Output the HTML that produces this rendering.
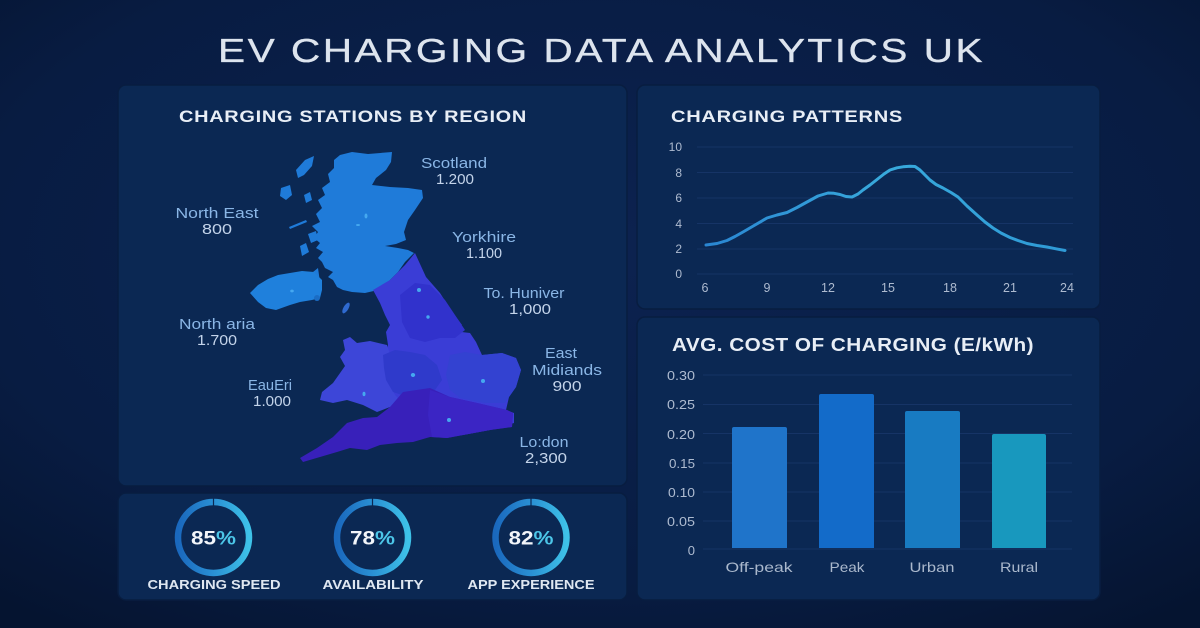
<!DOCTYPE html>
<html><head><meta charset="utf-8"><style>
html,body{margin:0;padding:0;background:#071a3c;}
svg{display:block;}
text{font-family:"Liberation Sans",Arial,sans-serif;}
</style></head><body>
<svg width="1200" height="628" viewBox="0 0 1200 628" xmlns="http://www.w3.org/2000/svg">
<defs>
<radialGradient id="bg" cx="50%" cy="40%" r="75%">
<stop offset="0" stop-color="#0c2250"/>
<stop offset="0.7" stop-color="#081c42"/>
<stop offset="1" stop-color="#051430"/>
</radialGradient>
<linearGradient id="ring" x1="0" y1="0" x2="1" y2="0">
<stop offset="0" stop-color="#1a68bd"/>
<stop offset="0.5" stop-color="#2a90d4"/>
<stop offset="1" stop-color="#3ec2e8"/>
</linearGradient>
<linearGradient id="ln" x1="0" y1="0" x2="1" y2="0">
<stop offset="0" stop-color="#2a86d2"/>
<stop offset="0.5" stop-color="#38aadc"/>
<stop offset="1" stop-color="#2f9ad6"/>
</linearGradient>
</defs>
<rect width="1200" height="628" fill="url(#bg)"/>

<!-- Title -->
<text x="218" y="62" font-size="33.5" fill="#dde4ee" stroke="#dde4ee" stroke-width="0.3" letter-spacing="2" textLength="767" lengthAdjust="spacingAndGlyphs">EV CHARGING DATA ANALYTICS UK</text>

<!-- Panels -->
<g fill="#0b2853" stroke="#081d40" stroke-width="1.5">
<rect x="118" y="85" width="509" height="401" rx="8"/>
<rect x="118" y="493" width="509" height="107" rx="8"/>
<rect x="637" y="85" width="463" height="224" rx="8"/>
<rect x="637" y="317" width="463" height="283" rx="8"/>
</g>

<!-- Left panel title -->
<text x="179" y="122" font-size="17" font-weight="bold" fill="#e8eef6" letter-spacing="0.6" textLength="348" lengthAdjust="spacingAndGlyphs">CHARGING STATIONS BY REGION</text>

<!-- Map -->
<g>
<polygon fill="#1f7bd9" points="340,155 352,152 368,154 392,152 391,162 386,170 376,178 372,185 390,187 408,188 422,190 423,198 415,210 408,220 404,232 406,240 396,244 385,246 398,248 408,250 414,253 405,262 398,272 388,282 378,290 365,293 352,292 343,290 337,287 333,280 328,277 333,272 325,268 322,262 318,258 323,252 316,248 320,243 314,238 318,232 312,226 320,222 316,214 322,208 318,200 325,195 322,188 330,182 328,174 334,168 334,160"/>
<g fill="#1f7bd9">
<polygon points="296,170 305,160 314,156 312,166 304,175 298,178"/>
<polygon points="281,188 290,185 292,195 286,200 280,196"/>
<polygon points="304,195 310,192 312,200 306,203"/>
<polygon points="308,234 316,231 318,240 311,243"/>
<polygon points="300,246 306,243 309,252 302,256"/>
<polygon points="289,227 306,220 307,222 290,229"/>
<polygon points="313,272 318,268 320,282 315,284"/>
</g>
<polygon fill="#1f80dc" points="250,293 258,285 268,279 278,275 290,273 302,271 314,272 322,280 322,290 320,298 312,300 300,302 290,305 276,310 266,308 258,302"/>
<circle cx="317" cy="298" r="3" fill="#1a6cc4"/>
<ellipse cx="346" cy="308" rx="2.5" ry="6" transform="rotate(30 346 308)" fill="#2f6ad0"/>
<polygon fill="#3a3dd6" points="373,290 390,280 405,265 415,253 426,277 440,293 451,310 462,325 445,330 470,333 476,342 482,355 502,353 516,358 521,370 516,387 509,397 506,410 514,413 514,423 490,430 463,435 430,437 400,440 390,407 383,390 385,365 388,345 386,332 390,325 385,315 380,303"/>
<polygon fill="#3132cc" points="400,295 415,283 430,285 445,300 455,315 465,330 455,338 440,338 425,342 410,338 402,322"/>
<polygon fill="#3d46d8" points="343,340 350,337 357,343 370,341 387,345 392,360 388,380 395,395 400,400 390,407 377,412 363,405 347,400 333,403 320,400 322,392 333,383 345,366 340,357 345,350"/>
<polygon fill="#2f3acb" points="383,355 395,350 410,352 425,355 437,365 442,380 435,390 420,392 405,396 393,392 386,380 384,368"/>
<polygon fill="#3342d1" points="450,355 465,352 482,355 502,353 516,358 521,370 516,387 509,397 505,403 485,403 460,398 450,390 446,375"/>
<polygon fill="#3820ba" points="390,407 403,392 430,388 450,397 477,403 507,410 513,413 512,427 490,430 463,435 447,438 430,437 413,442 397,443 380,445 367,450 350,448 337,452 320,457 303,462 300,458 317,448 333,437 347,423 363,418 377,417"/>
<polygon fill="#3b25c4" points="430,390 450,397 477,403 507,410 513,413 512,427 490,430 463,435 447,438 432,437 428,415"/>
<g fill="#45a8f0">
<ellipse cx="366" cy="216" rx="1.5" ry="2.5"/>
<ellipse cx="358" cy="225" rx="2" ry="1"/>
<ellipse cx="292" cy="291" rx="1.8" ry="1.4"/>
<circle cx="419" cy="290" r="2"/>
<circle cx="428" cy="317" r="1.7"/>
<ellipse cx="413" cy="375" rx="2.2" ry="2"/>
<ellipse cx="364" cy="394" rx="1.5" ry="2.2"/>
<circle cx="483" cy="381" r="2"/>
<circle cx="449" cy="420" r="2"/>
</g>
</g>

<!-- Map labels -->
<g font-size="15" text-anchor="middle">
<text x="454" y="168" fill="#8ab6e6" textLength="66" lengthAdjust="spacingAndGlyphs">Scotland</text>
<text x="455" y="184" fill="#c4d4ea" textLength="38" lengthAdjust="spacingAndGlyphs">1.200</text>
<text x="217" y="218" fill="#8ab6e6" textLength="83" lengthAdjust="spacingAndGlyphs">North East</text>
<text x="217" y="234" fill="#c4d4ea" textLength="30" lengthAdjust="spacingAndGlyphs">800</text>
<text x="484" y="242" fill="#8ab6e6" textLength="64" lengthAdjust="spacingAndGlyphs">Yorkhire</text>
<text x="484" y="258" fill="#c4d4ea" textLength="36" lengthAdjust="spacingAndGlyphs">1.100</text>
<text x="524" y="298" fill="#8ab6e6" textLength="81" lengthAdjust="spacingAndGlyphs">To. Huniver</text>
<text x="530" y="314" fill="#c4d4ea" textLength="42" lengthAdjust="spacingAndGlyphs">1,000</text>
<text x="217" y="329" fill="#8ab6e6" textLength="76" lengthAdjust="spacingAndGlyphs">North aria</text>
<text x="217" y="345" fill="#c4d4ea" textLength="40" lengthAdjust="spacingAndGlyphs">1.700</text>
<text x="561" y="358" fill="#8ab6e6" textLength="32" lengthAdjust="spacingAndGlyphs">East</text>
<text x="567" y="375" fill="#8ab6e6" textLength="70" lengthAdjust="spacingAndGlyphs">Midiands</text>
<text x="567" y="391" fill="#c4d4ea" textLength="29" lengthAdjust="spacingAndGlyphs">900</text>
<text x="270" y="390" fill="#8ab6e6" textLength="44" lengthAdjust="spacingAndGlyphs">EauEri</text>
<text x="272" y="406" fill="#c4d4ea" textLength="38" lengthAdjust="spacingAndGlyphs">1.000</text>
<text x="544" y="447" fill="#8ab6e6" textLength="49" lengthAdjust="spacingAndGlyphs">Lo:don</text>
<text x="546" y="463" fill="#c4d4ea" textLength="42" lengthAdjust="spacingAndGlyphs">2,300</text>
</g>

<!-- KPI rings -->
<g fill="none" stroke="url(#ring)" stroke-width="6.5">
<circle cx="213.5" cy="537.5" r="35.5"/>
<circle cx="372.5" cy="537.5" r="35.5"/>
<circle cx="531" cy="537.5" r="35.5"/>
</g>
<g stroke="#0b2853" stroke-width="1.2">
<line x1="213.5" y1="498" x2="213.5" y2="506"/>
<line x1="372.5" y1="498" x2="372.5" y2="506"/>
<line x1="531" y1="498" x2="531" y2="506"/>
</g>
<g font-size="19" font-weight="bold" text-anchor="middle" fill="#f2f5fa">
<text x="213.5" y="544.5" textLength="45" lengthAdjust="spacingAndGlyphs">85<tspan fill="#4cc6e8">%</tspan></text>
<text x="372.5" y="544.5" textLength="45" lengthAdjust="spacingAndGlyphs">78<tspan fill="#4cc6e8">%</tspan></text>
<text x="531" y="544.5" textLength="45" lengthAdjust="spacingAndGlyphs">82<tspan fill="#4cc6e8">%</tspan></text>
</g>
<g font-size="12.5" font-weight="bold" fill="#dfe7f1" text-anchor="middle">
<text x="214" y="589" textLength="133" lengthAdjust="spacingAndGlyphs">CHARGING SPEED</text>
<text x="373" y="589" textLength="101" lengthAdjust="spacingAndGlyphs">AVAILABILITY</text>
<text x="531" y="589" textLength="127" lengthAdjust="spacingAndGlyphs">APP EXPERIENCE</text>
</g>

<!-- Charging patterns -->
<text x="671" y="122" font-size="17" font-weight="bold" fill="#e8eef6" letter-spacing="0.6" textLength="232" lengthAdjust="spacingAndGlyphs">CHARGING PATTERNS</text>
<g stroke="#163466" stroke-width="1">
<line x1="697" y1="147" x2="1073" y2="147"/>
<line x1="697" y1="172.5" x2="1073" y2="172.5"/>
<line x1="697" y1="198" x2="1073" y2="198"/>
<line x1="697" y1="223.5" x2="1073" y2="223.5"/>
<line x1="697" y1="249" x2="1073" y2="249"/>
<line x1="697" y1="274" x2="1073" y2="274"/>
</g>
<g font-size="12" fill="#aebbd0" text-anchor="end">
<text x="682" y="151">10</text>
<text x="682" y="177">8</text>
<text x="682" y="202">6</text>
<text x="682" y="228">4</text>
<text x="682" y="253">2</text>
<text x="682" y="278">0</text>
</g>
<g font-size="12.5" fill="#aebbd0" text-anchor="middle">
<text x="705" y="292">6</text>
<text x="767" y="292">9</text>
<text x="828" y="292">12</text>
<text x="888" y="292">15</text>
<text x="950" y="292">18</text>
<text x="1010" y="292">21</text>
<text x="1067" y="292">24</text>
</g>
<polyline fill="none" stroke="url(#ln)" stroke-width="3" stroke-linejoin="round" stroke-linecap="round"
points="706,245 717,243.5 727,240.5 735,236.5 743,232 755,225 767,218 777,215 787,212.5 797,207.5 807,202 818,196 828,193 834,193.3 840,194.5 846,196.5 852,197 858,194 863,190 870,185 877,179.5 884,174 890,170 897,167.8 903,166.8 910,166.3 915,166.5 920,170 925,175 930,180 936,184.5 943,188 951,192.5 958,197 967,206 977,215 985,222 993,228 1001,233 1010,237.5 1018,240.5 1027,243.5 1037,245.5 1047,247 1056,248.8 1065,250.5"/>

<!-- Avg cost -->
<text x="672" y="351" font-size="18" font-weight="bold" fill="#e8eef6" letter-spacing="0.4" textLength="362" lengthAdjust="spacingAndGlyphs">AVG. COST OF CHARGING (E/kWh)</text>
<g stroke="#163466" stroke-width="1">
<line x1="703" y1="375" x2="1072" y2="375"/>
<line x1="703" y1="404.5" x2="1072" y2="404.5"/>
<line x1="703" y1="433.5" x2="1072" y2="433.5"/>
<line x1="703" y1="463" x2="1072" y2="463"/>
<line x1="703" y1="492" x2="1072" y2="492"/>
<line x1="703" y1="521" x2="1072" y2="521"/>
<line x1="703" y1="549" x2="1072" y2="549"/>
</g>
<g font-size="13" fill="#aebbd0" text-anchor="end">
<text x="695" y="380" textLength="28" lengthAdjust="spacingAndGlyphs">0.30</text>
<text x="695" y="409" textLength="28" lengthAdjust="spacingAndGlyphs">0.25</text>
<text x="695" y="439" textLength="28" lengthAdjust="spacingAndGlyphs">0.20</text>
<text x="695" y="468" textLength="26" lengthAdjust="spacingAndGlyphs">0.15</text>
<text x="695" y="497" textLength="27" lengthAdjust="spacingAndGlyphs">0.10</text>
<text x="695" y="526" textLength="28" lengthAdjust="spacingAndGlyphs">0.05</text>
<text x="695" y="555">0</text>
</g>
<path d="M732,548 V429 Q732,427 734,427 H785 Q787,427 787,429 V548 Z" fill="#1f74ca"/>
<path d="M819,548 V396 Q819,394 821,394 H872 Q874,394 874,396 V548 Z" fill="#136bc9"/>
<path d="M905,548 V413 Q905,411 907,411 H958 Q960,411 960,413 V548 Z" fill="#187bc2"/>
<path d="M992,548 V436 Q992,434 994,434 H1044 Q1046,434 1046,436 V548 Z" fill="#1898be"/>
<g font-size="14" fill="#aab8cc" text-anchor="middle">
<text x="759" y="572" textLength="67" lengthAdjust="spacingAndGlyphs">Off-peak</text>
<text x="847" y="572" textLength="35" lengthAdjust="spacingAndGlyphs">Peak</text>
<text x="932" y="572" textLength="45" lengthAdjust="spacingAndGlyphs">Urban</text>
<text x="1019" y="572" textLength="38" lengthAdjust="spacingAndGlyphs">Rural</text>
</g>
</svg>
</body></html>
